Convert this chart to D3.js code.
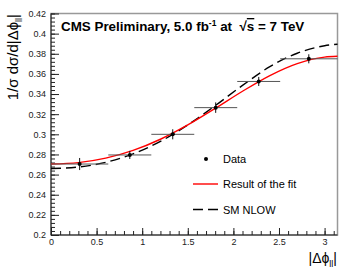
<!DOCTYPE html>
<html>
<head>
<meta charset="utf-8">
<script src="https://cdn.jsdelivr.net/npm/d3@7"></script>
<style>
  body { margin: 0; background: #fff; }
  svg { display: block; font-family: "Liberation Sans", Arial, sans-serif; }
</style>
</head>
<body>
<div id="chart"></div>
<script>
// datos: 6 bins en |dphi_ll|
const binEdges = [0, 0.628, 1.100, 1.571, 2.042, 2.513, 3.1416];
const binCenters = [0.314, 0.864, 1.335, 1.806, 2.278, 2.827];
const dataValues = [0.2705, 0.2795, 0.3000, 0.3265, 0.3525, 0.3750];
const dataErrors = [0.0060, 0.0040, 0.0050, 0.0052, 0.0045, 0.0045];

// curvas (muestreadas a ojo)
const curveX = [0, 0.3, 0.6, 0.9, 1.2, 1.5, 1.8, 2.1, 2.4, 2.7, 3.0, 3.1416];
const fitY = [0.2705, 0.2719, 0.2763, 0.2840, 0.2951, 0.3093, 0.3257, 0.3428, 0.3584, 0.3703, 0.3767, 0.3775];
const smY = [0.2660, 0.2675, 0.2722, 0.2806, 0.2930, 0.3093, 0.3284, 0.3486, 0.3672, 0.3805, 0.3880, 0.3895];

const xTicks = [0, 0.5, 1, 1.5, 2, 2.5, 3];
const yTicks = [0.2, 0.22, 0.24, 0.26, 0.28, 0.3, 0.32, 0.34, 0.36, 0.38, 0.4, 0.42];

const width = 357, height = 277;
const margin = { top: 13.5, right: 19.5, bottom: 42, left: 51 };
const W = width - margin.left - margin.right;
const H = height - margin.top - margin.bottom;

const x = d3.scaleLinear().domain([0, Math.PI]).range([0, W]);
const y = d3.scaleLinear().domain([0.2, 0.42]).range([H, 0]);

const svg = d3.select('#chart').append('svg')
  .attr('width', width).attr('height', height);

const g = svg.append('g').attr('transform', `translate(${margin.left},${margin.top})`);

// marco
g.append('rect').attr('x', 0).attr('y', 0).attr('width', W).attr('height', H)
  .attr('fill', 'none').attr('stroke', '#999').attr('stroke-width', 1.5);

// ejes con ticks hacia dentro
const yMinor = d3.range(0.2, 0.4201, 0.004);
g.append('g')
  .call(d3.axisLeft(y).tickValues(yMinor).tickSize(-4).tickFormat(''))
  .call(ax => ax.select('.domain').remove())
  .selectAll('line').attr('stroke', '#222');
const yAx = g.append('g')
  .call(d3.axisLeft(y).tickValues(yTicks).tickSize(-8).tickPadding(4)
    .tickFormat(d => d3.format('')(+d.toFixed(2))));
yAx.select('.domain').attr('stroke', '#222').attr('d', `M0,${H}V0`);
yAx.selectAll('line').attr('stroke', '#222');
yAx.selectAll('text').attr('font-size', '9px').attr('fill', '#222').attr('x', -5);

const xMinor = d3.range(0, 3.1401, 0.1);
g.append('g').attr('transform', `translate(0,${H})`)
  .call(d3.axisBottom(x).tickValues(xMinor).tickSize(-4).tickFormat(''))
  .call(ax => ax.select('.domain').remove())
  .selectAll('line').attr('stroke', '#222');
const xAx = g.append('g').attr('transform', `translate(0,${H})`)
  .call(d3.axisBottom(x).tickValues(xTicks).tickSize(-7).tickPadding(4).tickFormat(d3.format('')));
xAx.select('.domain').attr('stroke', '#222').attr('stroke-width', 1.2).attr('d', `M0,0H${W}`);
xAx.selectAll('line').attr('stroke', '#222');
xAx.selectAll('text').attr('font-size', '9px').attr('fill', '#222').attr('y', 4);

// curvas
const line = d3.line().x(d => x(d[0])).y(d => y(d[1])).curve(d3.curveMonotoneX);
g.append('path').datum(curveX.map((v, i) => [v, smY[i]]))
  .attr('d', line).attr('fill', 'none').attr('stroke', '#000')
  .attr('stroke-width', 1.4).attr('stroke-dasharray', '10,5');
g.append('path').datum(curveX.map((v, i) => [v, fitY[i]]))
  .attr('d', line).attr('fill', 'none').attr('stroke', '#ff0000')
  .attr('stroke-width', 1.4);

// datos con barras de error
const pts = binCenters.map((c, i) => ({ c, lo: binEdges[i], hi: binEdges[i + 1], v: dataValues[i], e: dataErrors[i] }));
const pg = g.append('g').attr('stroke-width', 1);
pg.selectAll('.hbar').data(pts).join('line')
  .attr('x1', d => x(d.lo)).attr('x2', d => x(d.hi))
  .attr('y1', d => y(d.v)).attr('y2', d => y(d.v)).attr('stroke', '#555');
pg.selectAll('.vbar').data(pts).join('line')
  .attr('x1', d => x(d.c)).attr('x2', d => x(d.c))
  .attr('y1', d => y(d.v - d.e)).attr('y2', d => y(d.v + d.e)).attr('stroke', '#111');
g.selectAll('.pt').data(pts).join('circle')
  .attr('cx', d => x(d.c)).attr('cy', d => y(d.v)).attr('r', 2).attr('fill', '#000');

// titulo
const title = svg.append('text').attr('x', 61).attr('y', 31)
  .attr('font-size', '13.4px').attr('font-weight', 'bold').attr('fill', '#000');
title.append('tspan').text('CMS Preliminary, 5.0 fb');
title.append('tspan').attr('dy', -5).attr('font-size', '8.5px').text('-1');
title.append('tspan').attr('dy', 5).attr('xml:space', 'preserve').text(' at  \u221A');
title.append('tspan').attr('text-decoration', 'overline').text('s');
title.append('tspan').text(' = 7 TeV');

// leyenda
const lg = svg.append('g').attr('font-size', '11px').attr('fill', '#000');
lg.append('circle').attr('cx', 206).attr('cy', 159).attr('r', 2).attr('fill', '#000');
lg.append('text').attr('x', 223).attr('y', 163).text('Data');
lg.append('line').attr('x1', 193).attr('x2', 218).attr('y1', 184).attr('y2', 184)
  .attr('stroke', '#ff0000').attr('stroke-width', 1.4);
lg.append('text').attr('x', 223).attr('y', 188).text('Result of the fit');
lg.append('line').attr('x1', 193).attr('x2', 218).attr('y1', 209.5).attr('y2', 209.5)
  .attr('stroke', '#000').attr('stroke-width', 1.4).attr('stroke-dasharray', '10,5');
lg.append('text').attr('x', 223).attr('y', 213.5).text('SM NLOW');

// titulos de ejes
const xt = svg.append('text').attr('x', 337).attr('y', 263).attr('text-anchor', 'end')
  .attr('font-size', '14px').attr('fill', '#000');
xt.append('tspan').text('|\u0394\u03D5');
xt.append('tspan').attr('dy', 4).attr('font-size', '9px').text('ll');
xt.append('tspan').attr('dy', -4).text('|');

const yt = svg.append('text').attr('transform', 'translate(18,14) rotate(-90)')
  .attr('text-anchor', 'end').attr('font-size', '15px').attr('fill', '#000');
yt.append('tspan').text('1/\u03C3 d\u03C3/d|\u0394\u03D5');
yt.append('tspan').attr('dy', 4).attr('font-size', '9px').text('ll');
yt.append('tspan').attr('dy', -4).text('|');
</script>
</body>
</html>
